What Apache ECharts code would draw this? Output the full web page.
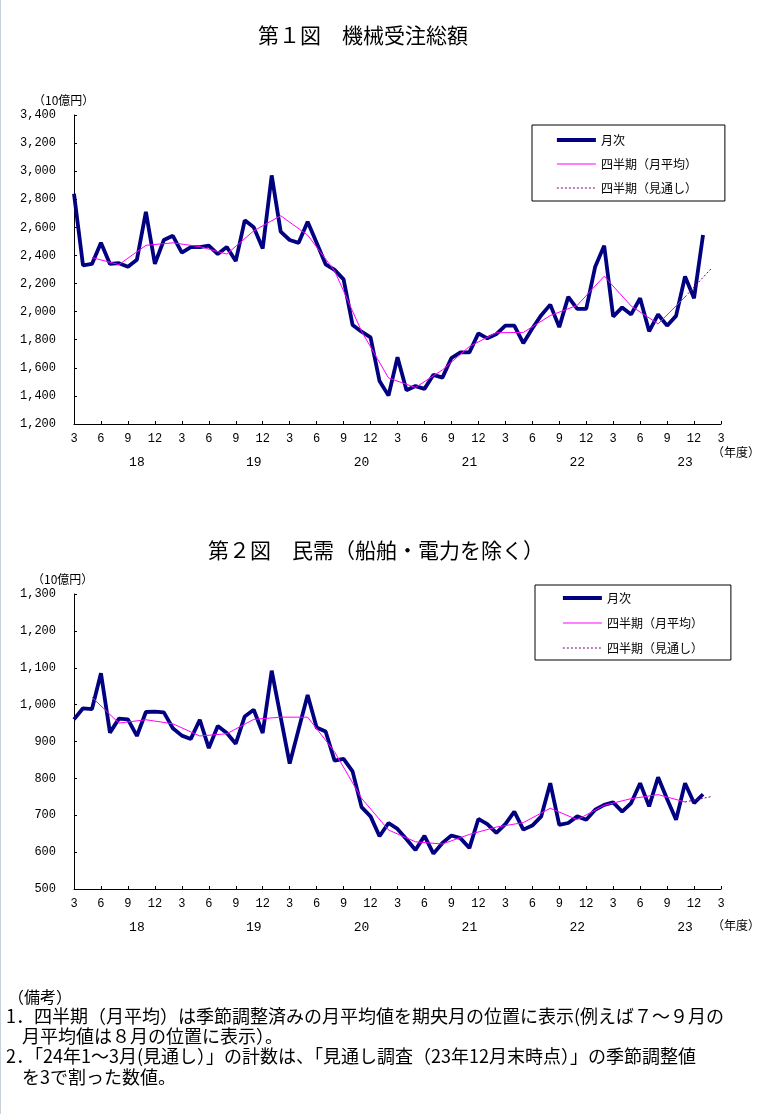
<!DOCTYPE html>
<html>
<head>
<meta charset="utf-8">
<script src="https://cdn.jsdelivr.net/npm/echarts@6/dist/echarts.min.js"></script>
<style>
html,body{margin:0;padding:0;background:#fff;}
#main{width:772px;height:1114px;}
</style>
</head>
<body>
<div id="main"></div>
<script>
// ---------- DATA ----------
// month number of each category, Mar 2018 .. Mar 2024
const months = [3,4,5,6,7,8,9,10,11,12,1,2,
                3,4,5,6,7,8,9,10,11,12,1,2,
                3,4,5,6,7,8,9,10,11,12,1,2,
                3,4,5,6,7,8,9,10,11,12,1,2,
                3,4,5,6,7,8,9,10,11,12,1,2,
                3,4,5,6,7,8,9,10,11,12,1,2,
                3];
const fiscalYears = ['18','19','20','21','22','23'];

// 第1図 機械受注総額 (10億円), monthly Mar 2018 - Jan 2024
const total_monthly = [2840,2330,2340,2490,2340,2345,2320,2370,2710,2340,
                       2510,2540,2420,2460,2460,2470,2410,2460,2360,2650,
                       2600,2450,2970,2570,2510,2490,2640,2490,2337,2297,
                       2230,1905,1857,1817,1506,1402,1675,1440,1470,1450,
                       1550,1530,1670,1710,1710,1845,1810,1840,1900,1900,
                       1775,1880,1975,2050,1890,2105,2020,2020,2320,2470,
                       1965,2030,1980,2095,1860,1980,1900,1970,2250,2095,
                       2545];
// quarterly averages (Apr-Jun 2018 .. Oct-Dec 2023), plotted at mid-quarter month
const total_quarterly = [2385,2335,2472,2490,2463,2410,2575,2683,2545,2290,
                         1860,1528,1460,1585,1752,1850,1852,1972,2045,2252,
                         2040,1913,2105];
// outlook: Oct-Dec 2023 actual -> Jan-Mar 2024 outlook
const total_outlook = [2105,2313];

// 第2図 民需（船舶・電力を除く）
const private_monthly = [960,990,988,1085,924,962,960,915,980,981,
                         979,936,916,907,959,882,942,923,894,968,
                         986,923,1092,966,840,933,1026,938,927,848,
                         853,819,722,697,643,679,663,635,606,644,
                         596,625,645,638,611,690,676,652,676,710,
                         661,672,697,787,674,679,697,688,715,728,
                         735,710,733,787,724,803,744,688,787,733,
                         757];
const private_quarterly = [1020,950,959,948,915,921,960,966,966,872,
                           746,660,628,622,648,668,680,719,688,727,
                           745,756,736];
const private_outlook = [736,751];

// ---------- LAYOUT ----------
const yearLabelIdx = [7,20,32,44,56,68];
const cats = months.map((m,i)=> i + ':' + m);
const NUMF = 'Liberation Mono';
const JPF = 'Noto Sans CJK JP';

function quarterSeriesData(q){
  const arr = new Array(months.length).fill(null);
  q.forEach((v,k)=>{ arr[2 + 3*k] = v; });
  return arr;
}
function outlookSeriesData(o, qLen){
  const arr = new Array(months.length).fill(null);
  const start = 2 + 3*(qLen-1);
  arr[start] = o[0];
  arr[start+3] = o[1];
  return arr;
}
function fmtComma(v){ return String(v).replace(/\B(?=(\d{3})+(?!\d))/g, ','); }

function xAxes(gi){
  return [
    { type:'category', gridIndex:gi, data:cats, boundaryGap:false,
      axisLine:{lineStyle:{color:'#000',width:1}},
      axisTick:{inside:true,length:3,interval:2,lineStyle:{color:'#000'}},
      axisLabel:{interval:2, margin:9, color:'#000', fontSize:12, fontFamily:NUMF,
        formatter:(v,i)=>String(months[i])},
      splitLine:{show:false} },
    { type:'category', gridIndex:gi, data:cats, boundaryGap:false, position:'bottom', offset:23,
      axisLine:{show:false}, axisTick:{show:false},
      axisLabel:{interval:(i)=>yearLabelIdx.indexOf(i)>=0, margin:9, color:'#000', fontSize:13, fontFamily:NUMF,
        formatter:(v,i)=>{ const k = yearLabelIdx.indexOf(i); return k>=0 ? fiscalYears[k] : ''; }},
      splitLine:{show:false} }
  ];
}
function yAxis(gi,min,max,interval){
  return { type:'value', gridIndex:gi, min, max, interval,
    axisLine:{show:true,lineStyle:{color:'#000',width:1}},
    axisTick:{show:true,inside:true,length:3,lineStyle:{color:'#000'}},
    axisLabel:{margin:18,color:'#000',fontSize:12,fontFamily:NUMF,formatter:fmtComma},
    splitLine:{show:false} };
}
function seriesFor(xi, yi, monthly, quarterly, outlook){
  return [
    { name:'月次', type:'line', xAxisIndex:xi, yAxisIndex:yi, data:monthly,
      symbol:'none', lineStyle:{color:'#000080', width:3.8}, itemStyle:{color:'transparent', borderWidth:0}, z:2 },
    { name:'四半期（月平均）', type:'line', xAxisIndex:xi, yAxisIndex:yi, data:quarterSeriesData(quarterly),
      connectNulls:true, symbol:'none', lineStyle:{color:'#ff00ff', width:1}, itemStyle:{color:'transparent', borderWidth:0}, z:3 },
    { name:'四半期（見通し）', type:'line', xAxisIndex:xi, yAxisIndex:yi, data:outlookSeriesData(outlook, quarterly.length),
      connectNulls:true, symbol:'none', lineStyle:{color:'#800080', width:1, type:[2,2]}, itemStyle:{color:'transparent', borderWidth:0}, z:4 }
  ];
}
function legend(left, top, pad, gap){
  return { orient:'vertical', left, top, padding:pad, itemGap:gap, itemWidth:39, itemHeight:14,
    borderColor:'#000', borderWidth:1, selectedMode:false, backgroundColor:'#fff',
    data:[
      { name:'月次', lineStyle:{width:3.8, color:'#000080'} },
      { name:'四半期（月平均）', lineStyle:{width:1, color:'#ff00ff'} },
      { name:'四半期（見通し）', lineStyle:{width:1, color:'#800080', type:[2,2]} }
    ],
    itemStyle:{color:'transparent', borderWidth:0, opacity:0},
    textStyle:{fontSize:12, fontFamily:JPF, color:'#000', padding:[0,0,0,0]} };
}
function txt(x,y,s,size,align){
  return { type:'text', x, y, silent:true,
    style:{ text:s, x:0, y:0, fill:'#000', font: size + 'px "' + JPF + '"',
      textAlign: align||'left', textVerticalAlign:'middle' } };
}

const chart = echarts.init(document.getElementById('main'), null, {renderer:'canvas'});
chart.setOption({
  animation:false,
  backgroundColor:'#fff',
  grid:[
    { left:74, top:115, width:647, height:309, containLabel:false },
    { left:74, top:594, width:647, height:295, containLabel:false }
  ],
  xAxis:[...xAxes(0), ...xAxes(1)],
  yAxis:[ yAxis(0,1200,3400,200), yAxis(1,500,1300,100) ],
  legend:[ legend(532,125,[9,28,7,23],12), legend(535,585,[7,28,6,26],13) ],
  series:[ ...seriesFor(0,0,total_monthly,total_quarterly,total_outlook),
           ...seriesFor(2,1,private_monthly,private_quarterly,private_outlook) ],
  graphic:[
    { type:'rect', shape:{x:0,y:0,width:1,height:1114}, style:{fill:'#c8d0d8'}, silent:true },
    txt(363,35,'第１図　機械受注総額',21,'center'),
    txt(376,550,'第２図　民需（船舶・電力を除く）',21,'center'),
    txt(33,100,'（10億円）',12),
    txt(32,579,'（10億円）',12),
    txt(712,452,'（年度）',12),
    txt(712,925,'（年度）',12),
    txt(8,997,'（備考）',16),
    txt(6,1016,'1．四半期（月平均）は季節調整済みの月平均値を期央月の位置に表示(例えば７～９月の',18),
    txt(22,1036,'月平均値は８月の位置に表示）。',18),
    txt(6,1056,'2．「24年1～3月(見通し）」の計数は、「見通し調査（23年12月末時点）」の季節調整値',18),
    txt(22,1077,'を3で割った数値。',18)
  ]
});
</script>
</body>
</html>
